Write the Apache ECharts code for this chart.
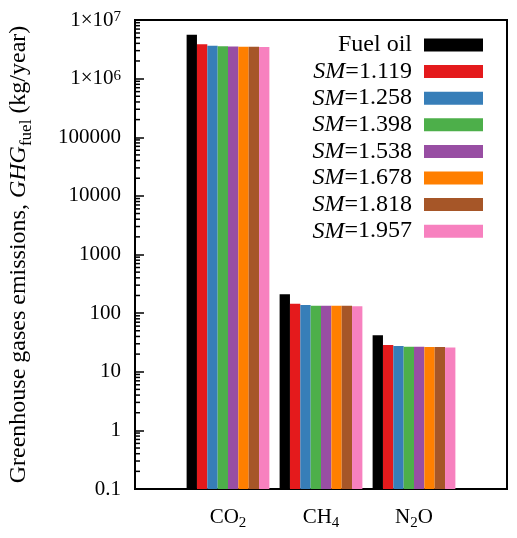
<!DOCTYPE html>
<html lang="en">
<head>
    <meta charset="UTF-8">
    <title>GHG emissions</title>
    <script src="https://cdn.jsdelivr.net/npm/echarts@6/dist/echarts.min.js"></script>
    <style>
        html, body { margin: 0; padding: 0; background: #fff; }
        #chart { width: 517px; height: 538px; }
    </style>
</head>
<body>
<div id="chart"></div>
<script>
    // gases on the x axis
    var gases = ['CO2', 'CH4', 'N2O'];
    var gasLabels = ['CO{s|2}', 'CH{s|4}', 'N{s|2}O'];
    // series names
    var names = ['Fuel oil', 'SM=1.119', 'SM=1.258', 'SM=1.398', 'SM=1.538', 'SM=1.678', 'SM=1.818', 'SM=1.957'];
    var colors = ['#000000', '#e41a1c', '#377eb8', '#4daf4a', '#984ea3', '#ff7f00', '#a65628', '#f781bf'];
    // emissions (kg/year), per gas: CO2, CH4, N2O
    var fuelOil = [5600000, 209, 41.8];
    var sm1119 = [3850000, 144, 28.6];
    var sm1258 = [3640000, 138, 27.5];
    var sm1398 = [3550000, 134, 26.8];
    var sm1538 = [3540000, 134, 26.6];
    var sm1678 = [3500000, 133, 26.5];
    var sm1818 = [3490000, 133, 26.4];
    var sm1957 = [3450000, 131, 25.8];
    var values = [fuelOil, sm1119, sm1258, sm1398, sm1538, sm1678, sm1818, sm1957];
    // y axis range
    var yMin = 0.1, yMax = 10000000;

    var font = 'Liberation Serif';

    // minor ticks 2..9 in each decade
    var minorTicks = [];
    for (var k = -1; k < 7; k++) {
        for (var m = 2; m <= 9; m++) {
            minorTicks.push([0, m * Math.pow(10, k)]);
        }
    }

    // pad an empty slot on both ends so the groups sit inside the box
    var axisData = [''].concat(gases).concat(['']);
    function pad(arr) { return [null].concat(arr).concat([null]); }

    var series = names.map(function (n, i) {
        return {
            name: n,
            type: 'bar',
            data: pad(values[i]),
            itemStyle: { color: colors[i] },
            barGap: 0,
            barCategoryGap: '11%'
        };
    });
    series.push({
        name: 'minor',
        type: 'custom',
        silent: true,
        z: 10,
        data: minorTicks,
        renderItem: function (params, api) {
            var y = api.coord([0, api.value(1)])[1];
            var x = params.coordSys.x;
            return {
                type: 'line',
                shape: { x1: x, y1: y, x2: x + 5, y2: y },
                style: { stroke: '#000', lineWidth: 1.5 }
            };
        }
    });

    var chart = echarts.init(document.getElementById('chart'));
    chart.setOption({
        animation: false,
        textStyle: { fontFamily: font },
        grid: {
            left: 135, right: 10, top: 20, bottom: 49,
            outerBoundsMode: 'none',
            containLabel: false,
            show: true, borderColor: '#000', borderWidth: 2
        },
        legend: {
            data: names,
            orient: 'vertical',
            right: 29,
            top: 28,
            align: 'right',
            itemWidth: 59,
            itemHeight: 13,
            itemGap: 2.6,
            icon: 'rect',
            formatter: function (name) {
                if (name.indexOf('SM') === 0) {
                    return '{i|SM}{n|' + name.slice(2) + '}';
                }
                return '{n|' + name + '}';
            },
            textStyle: {
                padding: [0, 7, 0, 0],
                rich: {
                    n: { fontFamily: font, fontSize: 24, lineHeight: 24, color: '#000' },
                    i: { fontFamily: font, fontSize: 24, lineHeight: 24, fontStyle: 'italic', color: '#000' }
                }
            }
        },
        xAxis: {
            type: 'category',
            data: axisData,
            boundaryGap: false,
            axisLine: { lineStyle: { color: '#000', width: 2 } },
            axisTick: { show: false },
            splitLine: { show: false },
            axisLabel: {
                interval: 0,
                margin: 14,
                formatter: function (v) {
                    var idx = gases.indexOf(v);
                    return idx < 0 ? '' : gasLabels[idx];
                },
                rich: {
                    s: { fontFamily: font, fontSize: 15, lineHeight: 15, verticalAlign: 'bottom', color: '#000' }
                },
                fontFamily: font,
                fontSize: 21,
                lineHeight: 28,
                color: '#000'
            }
        },
        yAxis: {
            type: 'log',
            logBase: 10,
            min: yMin,
            max: yMax,
            startValue: yMin,
            name: '{r|Greenhouse gases emissions, }{i|GHG}{s|fuel}{r| (kg/year)}',
            nameLocation: 'middle',
            nameGap: 100,
            nameTextStyle: {
                rich: {
                    r: { fontFamily: font, fontSize: 24, lineHeight: 32, color: '#000' },
                    i: { fontFamily: font, fontSize: 24, lineHeight: 32, fontStyle: 'italic', color: '#000' },
                    s: { fontFamily: font, fontSize: 17, lineHeight: 17, verticalAlign: 'bottom', color: '#000' }
                }
            },
            axisLine: { show: true, lineStyle: { color: '#000', width: 2 } },
            axisTick: { show: true, inside: true, length: 9, lineStyle: { color: '#000', width: 1.5 } },
            splitLine: { show: false },
            axisLabel: {
                margin: 14,
                fontFamily: font,
                fontSize: 21,
                color: '#000',
                formatter: function (v) {
                    var e = Math.round(Math.log10(v));
                    if (e >= 6) return '1×10{p|' + e + '}';
                    if (e < 0) return String(Math.pow(10, e).toFixed(-e));
                    return String(Math.pow(10, e));
                },
                rich: {
                    p: { fontFamily: font, fontSize: 15, lineHeight: 15, verticalAlign: 'top', color: '#000' }
                }
            }
        },
        series: series
    });
</script>
</body>
</html>
